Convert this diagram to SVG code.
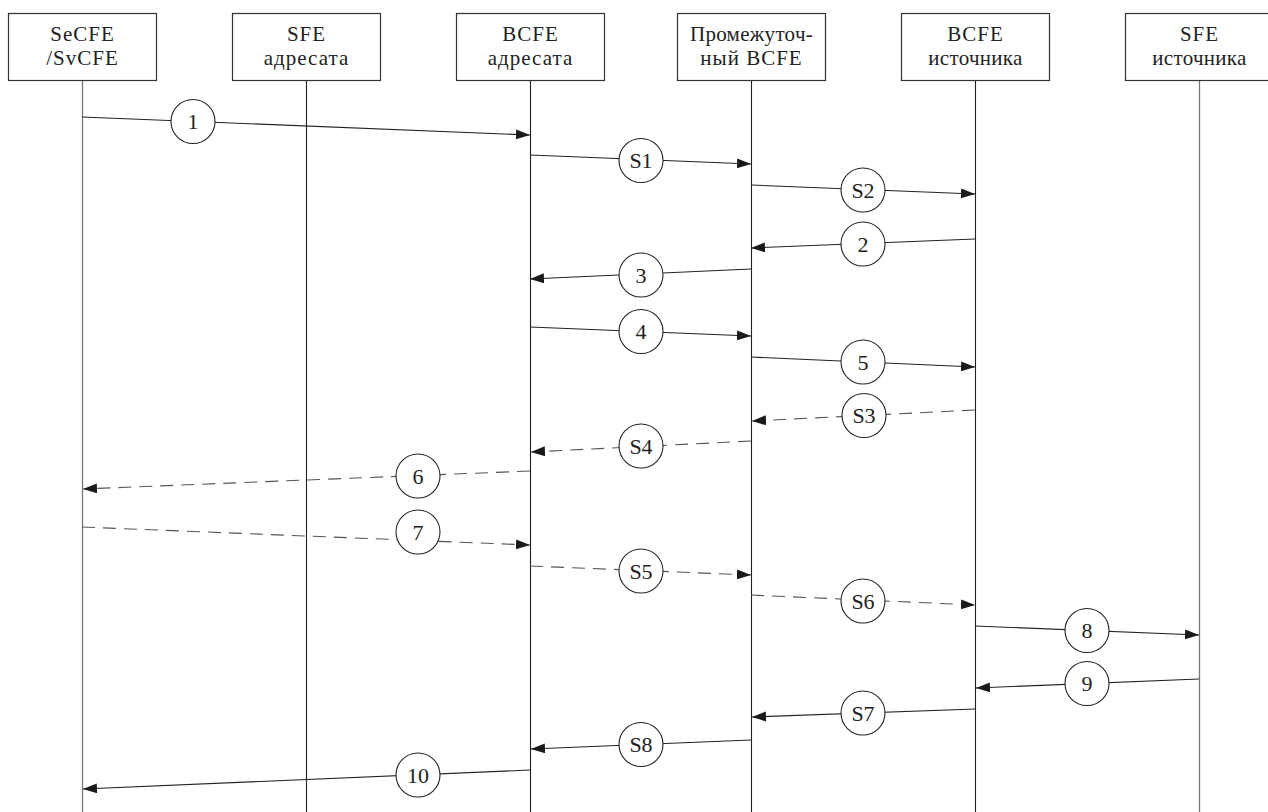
<svg xmlns="http://www.w3.org/2000/svg" width="1268" height="812" viewBox="0 0 1268 812">
<style>
.box{fill:#fff;stroke:#333;stroke-width:1.2}
.life{stroke:#222;stroke-width:1.1}
.lifeg{stroke:#777;stroke-width:1.3}
.hdr{font-family:"Liberation Serif","Times New Roman",serif;font-size:21px;letter-spacing:1px;fill:#222;text-anchor:middle}
.msg{stroke:#222;stroke-width:1.1;fill:none}
.dash{stroke:#555;stroke-width:1.1;fill:none;stroke-dasharray:13 8}
.lbl circle{fill:#fff;stroke:#222;stroke-width:1.1}
.lbl text{font-family:"Liberation Serif","Times New Roman",serif;font-size:22px;fill:#222;text-anchor:middle}
</style>
<defs>
<marker id="ah" markerUnits="userSpaceOnUse" markerWidth="15" markerHeight="11" refX="14" refY="5" orient="auto">
<path d="M0,0 L14,5 L0,10 z" fill="#1a1a1a"/>
</marker>
</defs>
<rect width="1268" height="812" fill="#fff"/>
<g id="n1"><line class="lifeg" x1="82.5" y1="80" x2="82.5" y2="812"/><rect class="box" x="8.5" y="13.5" width="148" height="67"/><text class="hdr" x="82.5" y="41">SeCFE</text><text class="hdr" x="82.5" y="65">/SvCFE</text></g>
<g id="n2"><line class="life" x1="306.5" y1="80" x2="306.5" y2="812"/><rect class="box" x="232.5" y="13.5" width="148" height="67"/><text class="hdr" x="306.5" y="41">SFE</text><text class="hdr" x="306.5" y="65">адресата</text></g>
<g id="n3"><line class="life" x1="530.5" y1="80" x2="530.5" y2="812"/><rect class="box" x="456.5" y="13.5" width="148" height="67"/><text class="hdr" x="530.5" y="41">BCFE</text><text class="hdr" x="530.5" y="65">адресата</text></g>
<g id="n4"><line class="life" x1="751.5" y1="80" x2="751.5" y2="812"/><rect class="box" x="677.5" y="13.5" width="148" height="67"/><text class="hdr" x="751.5" y="41" style="letter-spacing:0.3px">Промежуточ-</text><text class="hdr" x="751.5" y="65">ный  BCFE</text></g>
<g id="n5"><line class="life" x1="975.5" y1="80" x2="975.5" y2="812"/><rect class="box" x="901.5" y="13.5" width="148" height="67"/><text class="hdr" x="975.5" y="41">BCFE</text><text class="hdr" x="975.5" y="65" style="letter-spacing:0.3px">источника</text></g>
<g id="n6"><line class="lifeg" x1="1199.5" y1="80" x2="1199.5" y2="812"/><rect class="box" x="1125.5" y="13.5" width="148" height="67"/><text class="hdr" x="1199.5" y="41">SFE</text><text class="hdr" x="1199.5" y="65" style="letter-spacing:0.3px">источника</text></g>
<g id="connectors">
<line class="msg" x1="82" y1="117" x2="530" y2="135" marker-end="url(#ah)"/>
<line class="msg" x1="530" y1="155" x2="751" y2="164" marker-end="url(#ah)"/>
<line class="msg" x1="751" y1="185" x2="975" y2="194" marker-end="url(#ah)"/>
<line class="msg" x1="975" y1="239" x2="751" y2="248" marker-end="url(#ah)"/>
<line class="msg" x1="751" y1="269" x2="530" y2="279" marker-end="url(#ah)"/>
<line class="msg" x1="530" y1="327" x2="751" y2="336" marker-end="url(#ah)"/>
<line class="msg" x1="751" y1="357" x2="975" y2="367" marker-end="url(#ah)"/>
<line class="dash" x1="975" y1="410" x2="752" y2="421" marker-end="url(#ah)"/>
<line class="dash" x1="751" y1="441" x2="531" y2="452" marker-end="url(#ah)"/>
<line class="dash" x1="530" y1="471" x2="83" y2="489" marker-end="url(#ah)"/>
<line class="dash" x1="82" y1="527" x2="530" y2="545" marker-end="url(#ah)"/>
<line class="dash" x1="530" y1="566" x2="751" y2="575" marker-end="url(#ah)"/>
<line class="dash" x1="751" y1="595" x2="975" y2="605" marker-end="url(#ah)"/>
<line class="msg" x1="975" y1="626" x2="1199" y2="635" marker-end="url(#ah)"/>
<line class="msg" x1="1199" y1="679" x2="976" y2="688" marker-end="url(#ah)"/>
<line class="msg" x1="975" y1="709" x2="752" y2="717" marker-end="url(#ah)"/>
<line class="msg" x1="751" y1="740" x2="531" y2="749" marker-end="url(#ah)"/>
<line class="msg" x1="530" y1="770" x2="83" y2="789" marker-end="url(#ah)"/>
</g>
<g id="labels" class="lbl">
<g id="m1"><circle cx="193" cy="121.5" r="22"/><text x="193" y="129">1</text></g>
<g id="mS1"><circle cx="641" cy="160.5" r="22"/><text x="641" y="168">S1</text></g>
<g id="mS2"><circle cx="863" cy="190" r="22"/><text x="863" y="197.5">S2</text></g>
<g id="m2"><circle cx="863" cy="244" r="22"/><text x="863" y="251.5">2</text></g>
<g id="m3"><circle cx="641" cy="275" r="22"/><text x="641" y="282.5">3</text></g>
<g id="m4"><circle cx="641" cy="331.5" r="22"/><text x="641" y="339">4</text></g>
<g id="m5"><circle cx="863" cy="362" r="22"/><text x="863" y="369.5">5</text></g>
<g id="mS3"><circle cx="864" cy="415.5" r="22"/><text x="864" y="423">S3</text></g>
<g id="mS4"><circle cx="641" cy="446" r="22"/><text x="641" y="453.5">S4</text></g>
<g id="m6"><circle cx="418" cy="476" r="22"/><text x="418" y="483.5">6</text></g>
<g id="m7"><circle cx="418" cy="532" r="22"/><text x="418" y="539.5">7</text></g>
<g id="mS5"><circle cx="641" cy="571" r="22"/><text x="641" y="578.5">S5</text></g>
<g id="mS6"><circle cx="863" cy="601" r="22"/><text x="863" y="608.5">S6</text></g>
<g id="m8"><circle cx="1087" cy="630.5" r="22"/><text x="1087" y="638">8</text></g>
<g id="m9"><circle cx="1087" cy="683.5" r="22"/><text x="1087" y="691">9</text></g>
<g id="mS7"><circle cx="863" cy="713" r="22"/><text x="863" y="720.5">S7</text></g>
<g id="mS8"><circle cx="641" cy="744.5" r="22"/><text x="641" y="752">S8</text></g>
<g id="m10"><circle cx="418" cy="775" r="22"/><text x="418" y="782.5">10</text></g>
</g>
</svg>
